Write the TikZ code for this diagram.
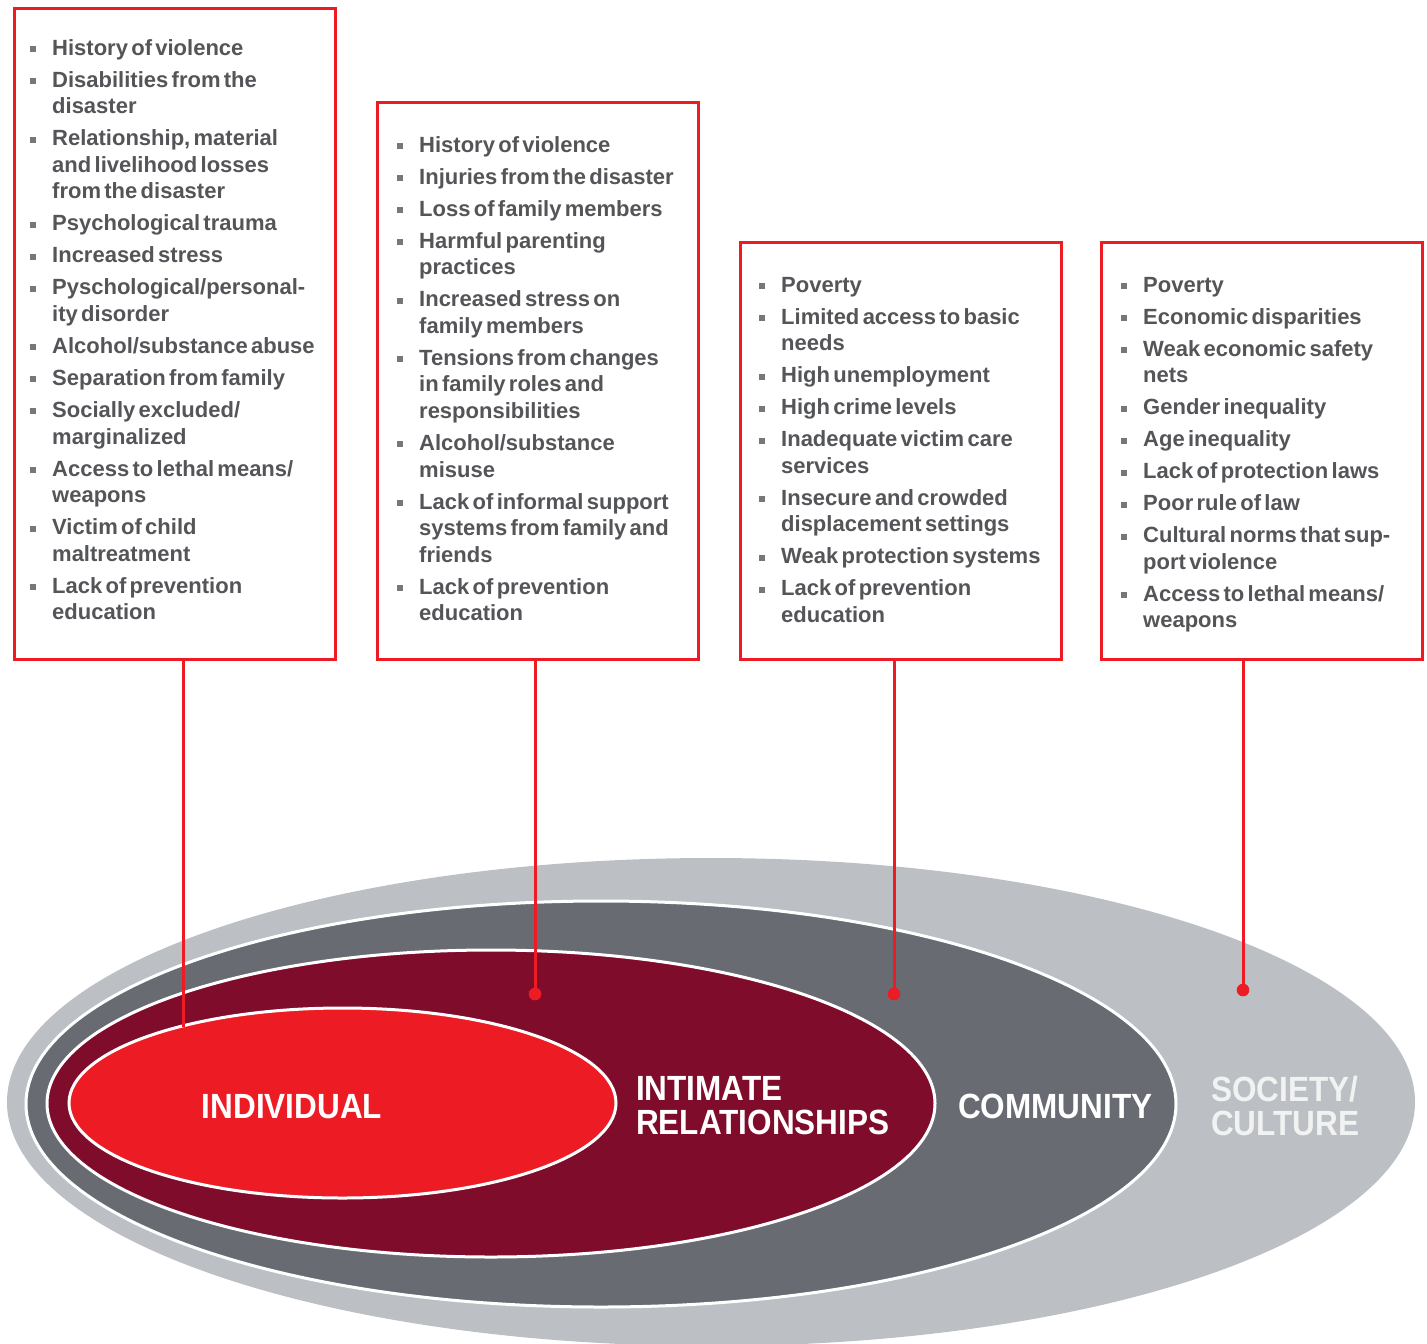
\documentclass[tikz,border=0pt]{standalone}
\usepackage{fontspec}
\setmainfont{Liberation Sans}
\newfontfamily\labelfont[FakeStretch=0.9]{Liberation Sans}
\usetikzlibrary{shapes.geometric}

\definecolor{societygrey}{HTML}{BCC0C4}
\definecolor{communitygrey}{HTML}{686B72}
\definecolor{relationred}{HTML}{800C2C}
\definecolor{individualred}{HTML}{ED1C24}
\definecolor{listgrey}{HTML}{545558}
\definecolor{bulletgrey}{HTML}{76777A}
\definecolor{societytext}{HTML}{F1F2F2}

% one bulleted entry of a risk-factor list
\newcommand{\riskitem}[1]{\noindent\hangindent=22.5pt\hangafter=1%
  \makebox[22.5pt][l]{\raisebox{3pt}{\textcolor{bulletgrey}{\rule{6pt}{6pt}}}}#1\par}
\newcommand{\listsetup}{\fontsize{22pt}{26.6pt}\selectfont\bfseries
  \setlength{\parskip}{5.4pt}\raggedright\color{listgrey}}

\begin{document}
\begin{tikzpicture}[x=1pt,y=-1pt,
  riskbox/.style={draw=individualred,line width=3pt,rectangle,inner sep=0pt,outer sep=0pt,anchor=north west},
  risklist/.style={anchor=base west,inner sep=0pt,text width=300pt},
  layer/.style={ellipse,inner sep=0pt,outer sep=0pt},
  ring/.style={layer,draw=white,line width=3pt},
  link/.style={draw=individualred,line width=3pt},
  linkdot/.style={fill=individualred},
  levellabel/.style={text=white,inner sep=0pt,font=\labelfont\bfseries\fontsize{35pt}{34pt}\selectfont},
]
\useasboundingbox (0,0) rectangle (1427,1344);

% nested levels of the ecological model
\node[layer,fill=societygrey,minimum width=1408pt,minimum height=488pt] (soc) at (711,1102) {};
\node[ring,fill=communitygrey,minimum width=1150pt,minimum height=406pt] (com) at (601,1104) {};
\node[ring,fill=relationred,minimum width=888pt,minimum height=307pt] (rel) at (491,1103.5) {};
\node[ring,fill=individualred,minimum width=547pt,minimum height=190pt] (ind) at (342.5,1103) {};

% level names
\node[levellabel,anchor=base] (indlabel) at (292,1118) {INDIVIDUAL};
\node[levellabel,anchor=west,align=left] (rellabel) at (636,1106) {INTIMATE\\RELATIONSHIPS};
\node[levellabel,anchor=base west] (comlabel) at (958,1118) {COMMUNITY};
\node[levellabel,anchor=west,align=left,text=societytext] (soclabel) at (1211,1106) {SOCIETY/\\CULTURE};

% framed lists of risk factors
\node[riskbox,minimum width=321pt,minimum height=651pt] (box1) at (14,8) {};
\node[riskbox,minimum width=321pt,minimum height=557pt] (box2) at (377,102) {};
\node[riskbox,minimum width=321pt,minimum height=417pt] (box3) at (740,242) {};
\node[riskbox,minimum width=321pt,minimum height=417pt] (box4) at (1101,242) {};

\node[risklist] (list1) at (29.5,55) {\listsetup
  \riskitem{History of violence}
  \riskitem{Disabilities from the\newline disaster}
  \riskitem{Relationship, material\newline and livelihood losses\newline from the disaster}
  \riskitem{Psychological trauma}
  \riskitem{Increased stress}
  \riskitem{Pyschological/personal-\newline ity disorder}
  \riskitem{Alcohol/substance abuse}
  \riskitem{Separation from family}
  \riskitem{Socially excluded/\newline marginalized}
  \riskitem{Access to lethal means/\newline weapons}
  \riskitem{Victim of child\newline maltreatment}
  \riskitem{Lack of prevention\newline education}};

\node[risklist] (list2) at (396.5,152) {\listsetup
  \riskitem{History of violence}
  \riskitem{Injuries from the disaster}
  \riskitem{Loss of family members}
  \riskitem{Harmful parenting\newline practices}
  \riskitem{Increased stress on\newline family members}
  \riskitem{Tensions from changes\newline in family roles and\newline responsibilities}
  \riskitem{Alcohol/substance\newline misuse}
  \riskitem{Lack of informal support\newline systems from family and\newline friends}
  \riskitem{Lack of prevention\newline education}};

\node[risklist] (list3) at (758.5,292) {\listsetup
  \riskitem{Poverty}
  \riskitem{Limited access to basic\newline needs}
  \riskitem{High unemployment}
  \riskitem{High crime levels}
  \riskitem{Inadequate victim care\newline services}
  \riskitem{Insecure and crowded\newline displacement settings}
  \riskitem{Weak protection systems}
  \riskitem{Lack of prevention\newline education}};

\node[risklist] (list4) at (1120.5,292) {\listsetup
  \riskitem{Poverty}
  \riskitem{Economic disparities}
  \riskitem{Weak economic safety\newline nets}
  \riskitem{Gender inequality}
  \riskitem{Age inequality}
  \riskitem{Lack of protection laws}
  \riskitem{Poor rule of law}
  \riskitem{Cultural norms that sup-\newline port violence}
  \riskitem{Access to lethal means/\newline weapons}};

% leader lines from each list down to its level
\coordinate (end1) at (183,1027);
\coordinate (end2) at (535,994);
\coordinate (end3) at (894,994);
\coordinate (end4) at (1243,990);

\draw[link] (box1.south -| end1) -- (end1);
\draw[link] (box2.south -| end2) -- (end2);
\draw[link] (box3.south -| end3) -- (end3);
\draw[link] (box4.south -| end4) -- (end4);

\fill[linkdot] (end2) circle (6.3pt);
\fill[linkdot] (end3) circle (6.3pt);
\fill[linkdot] (end4) circle (6.3pt);
\end{tikzpicture}
\end{document}
